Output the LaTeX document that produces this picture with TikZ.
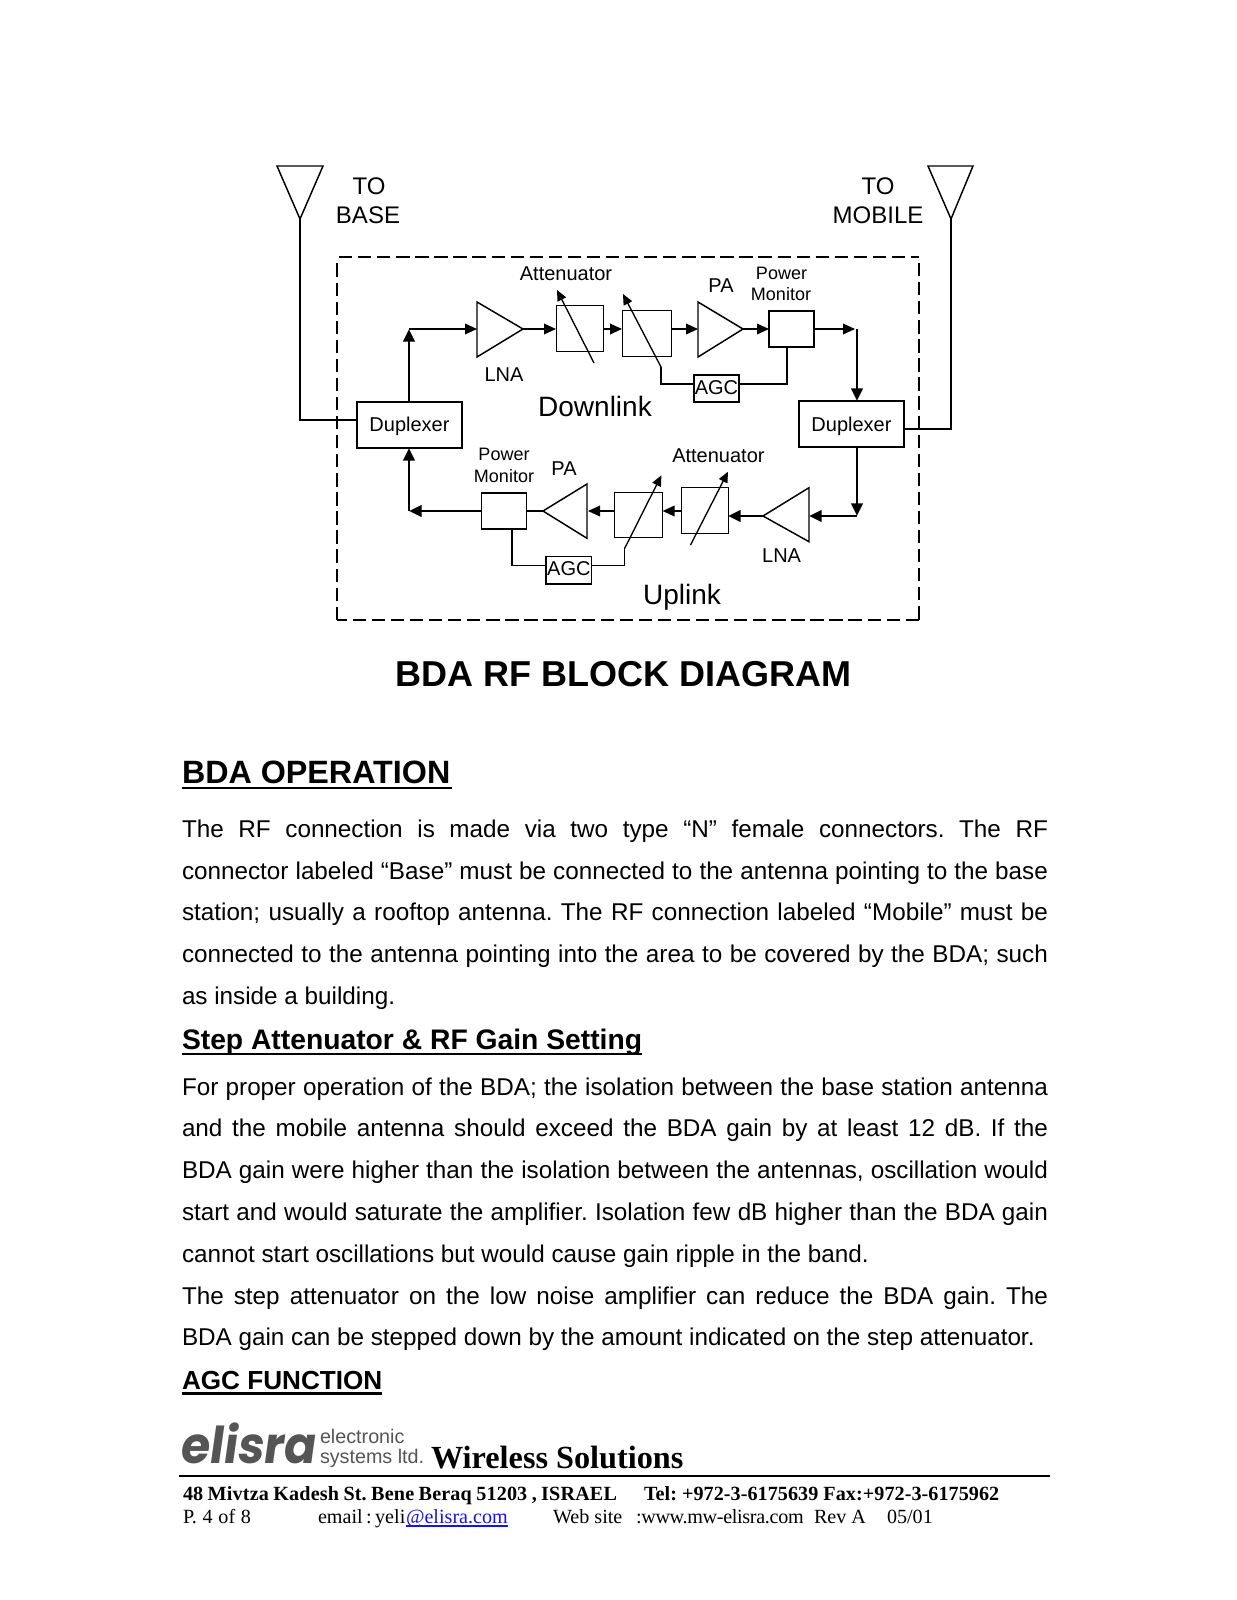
\documentclass[tikz,border=0pt]{standalone}
\usepackage{fontspec}
\usepackage{graphicx}
\setmainfont{Liberation Sans}
\newfontfamily\tnr{Liberation Serif}
\newfontfamily\logof{Poppins}[FakeSlant=0.15]
\usetikzlibrary{arrows.meta,calc}
\newcommand{\fsz}[1]{\fontsize{#1}{#1}\selectfont}
\definecolor{logogray}{HTML}{555555}
\definecolor{linkblue}{HTML}{1414E6}
\frenchspacing
\tikzset{
  every node/.style={inner sep=0pt,outer sep=0pt},
  thinl/.style={line width=1.0pt,draw=black},
  thickl/.style={line width=2.2pt,draw=black},
  bigtip/.style={-{Triangle[length=9.5pt,width=8.5pt]}},
  midtip/.style={-{Triangle[length=9pt,width=8pt]}},
  slash/.style={line width=1.0pt,-{Triangle[length=8pt,width=7pt]}},
  atten/.style={draw=black,line width=.7pt,anchor=north west},
  pmbox/.style={draw=black,line width=1.0pt,anchor=north west},
  dashl/.style={line width=1.1pt,dash pattern=on 10pt off 4.3pt},
  lbl/.style={anchor=base,font=\fsz{15}},
  lblS/.style={anchor=base,font=\fsz{13.5}},
  lblL/.style={anchor=base,font=\fsz{18}},
  lblXL/.style={anchor=base,font=\fsz{21}},
  bodyl/.style={anchor=base west,font=\fsz{18.2}},
  head/.style={anchor=base west,font=\fsz{24.2}\bfseries},
  subh/.style={anchor=base west,font=\fsz{21.2}\bfseries},
  subs/.style={anchor=base west,font=\fsz{19.6}\bfseries},
  foot/.style={anchor=base west,font=\tnr\fsz{15.1}},
  footb/.style={anchor=base west,font=\tnr\fsz{15.1}\bfseries},
}
% justified line: name, baseline y, text
\newcommand{\jline}[3]{\node[bodyl] (#1) at (182,#2) {\hbox to 649.5pt{\spaceskip=.278em plus 1fil\relax #3}};}
\newcommand{\lline}[3]{\node[bodyl] (#1) at (182,#2) {#3};}
% box from pixel corners
\newcommand{\pbox}[6]{\node[#2,minimum width=#5*.75pt-#3*.75pt,minimum height=#6*.75pt-#4*.75pt] (#1) at (#3,#4) {};}
\begin{document}
\begin{tikzpicture}[x=.75pt,y=-.75pt]
\useasboundingbox (0,0) rectangle (1237,1600);
\fill[white] (0,0) rectangle (1237,1600);

% ---- antennas
\coordinate (antL) at (300,219);
\coordinate (antR) at (951,219);
\draw[line width=1.1pt,line join=miter] (277,166) -- (323,166) -- (antL) -- cycle;
\draw[line width=1.1pt,line join=miter] (928,166) -- (973,166) -- (antR) -- cycle;

% ---- dashed enclosure
\draw[dashl] (339,257) -- (919,257);
\draw[dashl] (919,263) -- (919,620);
\draw[dashl] (919,620) -- (337,620);
\draw[dashl] (337,620) -- (337,262);

% ---- duplexers
\pbox{dupL}{pmbox,fill=white}{357}{402}{462}{448}
\pbox{dupR}{pmbox,fill=white}{799}{401}{904}{447}
\node[lbl] (dupLt) at (409.5,431) {Duplexer};
\node[lbl] (dupRt) at (851.5,431) {Duplexer};

% ---- downlink
\coordinate (dlA) at (409,329);
\coordinate (dlLnaIn) at (477,329);
\coordinate (dlLnaOut) at (523,329);
\draw[line width=1.1pt] (477,302) -- (477,357) -- (dlLnaOut) -- cycle;
\pbox{dlAt1}{atten}{556}{305}{603}{351}
\pbox{dlAt2}{atten}{622}{310}{671}{356}
\coordinate (dlPaIn) at (698,329);
\coordinate (dlPaOut) at (743,329);
\draw[line width=1.1pt] (698,302) -- (698,357) -- (dlPaOut) -- cycle;
\pbox{dlPm}{pmbox}{769}{311}{814}{347}
\pbox{dlAgc}{pmbox}{694}{375}{739}{402}
\node[lbl] (dlAgct) at (716.5,394) {AGC};
\coordinate (dlTurn) at (857,329);
\coordinate (dlS1a) at (594,363); \coordinate (dlS1b) at (557,290);
\coordinate (dlS2a) at (661,367); \coordinate (dlS2b) at (623,294);
\coordinate (dlS2c) at (661,384);
\coordinate (dlPmC) at (787,384);

\draw[thickl,bigtip] (dupL.north -| dlA) -- (dlA);
\draw[thinl,midtip] (dlA) -- (dlLnaIn);
\draw[thinl,midtip] (dlLnaOut) -- (dlAt1.west |- dlLnaOut);
\draw[thinl,midtip] (dlAt1.east |- dlLnaOut) -- (dlAt2.west |- dlLnaOut);
\draw[thinl,midtip] (dlAt2.east |- dlLnaOut) -- (dlPaIn);
\draw[thinl,midtip] (dlPaOut) -- (dlPm.west |- dlPaOut);
\draw[thinl,midtip] (dlPm.east |- dlPaOut) -- (855,329);
\draw[thickl,bigtip] (dlTurn) -- (dlTurn |- dupR.north);
\draw[slash] (dlS1a) -- (dlS1b);
\draw[slash] (dlS2a) -- (dlS2b);
\draw[thinl] (dlS2a) -- (dlS2c) -- (dlAgc.west |- dlS2c);
\draw[thinl] (dlAgc.east |- dlPmC) -- (dlPmC) -- (dlPmC |- dlPm.south);

% ---- uplink
\coordinate (ulLnaIn) at (809,516);
\coordinate (ulLnaOut) at (763,516);
\draw[line width=1.1pt] (809,487.7) -- (809,541.7) -- (ulLnaOut) -- cycle;
\pbox{ulAt1}{atten}{681}{487.3}{728}{533.3}
\pbox{ulAt2}{atten}{614}{492.3}{662.6}{537.3}
\coordinate (ulPaIn) at (587,511);
\coordinate (ulPaOut) at (543,511);
\draw[line width=1.1pt] (587,484) -- (587,538.3) -- (ulPaOut) -- cycle;
\pbox{ulPm}{pmbox}{481.5}{493}{526.7}{529}
\pbox{ulAgc}{pmbox}{546}{556.7}{591.8}{584}
\node[lbl] (ulAgct) at (568.9,575.7) {AGC};
\coordinate (ulTurnR) at (857,516);
\coordinate (ulTurnL) at (409,511);
\coordinate (ulS1a) at (690.5,545); \coordinate (ulS1b) at (728,471.7);
\coordinate (ulS2a) at (624.7,548.3); \coordinate (ulS2b) at (661.4,475.3);
\coordinate (ulS2c) at (624.7,565.3);
\coordinate (ulPmC) at (512,565.3);

\draw[thickl,bigtip] (dupR.south -| ulTurnR) -- (ulTurnR);
\draw[thickl,bigtip] (ulTurnR) -- (ulLnaIn);
\draw[thickl,bigtip] (ulLnaOut) -- (ulAt1.east |- ulLnaOut);
\draw[thinl,midtip] (ulAt1.west |- ulPaIn) -- (ulAt2.east |- ulPaIn);
\draw[thinl,midtip] (ulAt2.west |- ulPaIn) -- (588,511);
\draw[thickl] (ulPaOut) -- (ulPm.east |- ulPaOut);
\draw[thickl,bigtip] (ulPm.west |- ulTurnL) -- (ulTurnL);
\draw[thickl,bigtip] (ulTurnL) -- (ulTurnL |- dupL.south);
\draw[slash] (ulS1a) -- (ulS1b);
\draw[slash] (ulS2a) -- (ulS2b);
\draw[thinl] (ulS2a) -- (ulS2c) -- (ulAgc.east |- ulS2c);
\draw[thinl] (ulAgc.west |- ulPmC) -- (ulPmC) -- (ulPmC |- ulPm.south);

% ---- antenna feeds
\draw[thickl,line join=miter] (antL) -- (300,420) -- (dupL.west |- 0,420);
\draw[thickl,line join=miter] (antR) -- (951,429) -- (dupR.east |- 0,429);

% ---- diagram labels
\node[lblL] (toB) at (369,194.5) {TO};
\node[lblL] (base) at (368,223) {BASE};
\node[lblL] (toM) at (878,194.5) {TO};
\node[lblL] (mob) at (878,223) {MOBILE};
\node[lbl] (dlAtt) at (566,280) {Attenuator};
\node[lbl] (dlLna) at (504,381) {LNA};
\node[lbl] (dlPa) at (721,292.7) {PA};
\node[lblS] (dlPow) at (781.5,279) {Power};
\node[lblS] (dlMon) at (781,300) {Monitor};
\node[lblXL] (dl) at (595,416) {Downlink};
\node[lblS] (ulPow) at (504,460) {Power};
\node[lblS] (ulMon) at (504,482) {Monitor};
\node[lbl] (ulPa) at (564,475) {PA};
\node[lbl] (ulAtt) at (718.4,462) {Attenuator};
\node[lbl] (ulLna) at (781.6,562.5) {LNA};
\node[lblXL] (ul) at (682,604.5) {Uplink};

% ---- page text
\node[anchor=base,font=\fsz{27}\bfseries] (title) at (623.5,686) {BDA RF BLOCK DIAGRAM};

\node[head] (h1) at (182,783) {BDA OPERATION};
\draw[line width=1.9pt] ($(h1.base west)+(0,5)$) -- ($(h1.base east)+(2,5)$);

\jline{b1}{837}{The RF connection is made via two type “N” female connectors. The RF}
\jline{b2}{879}{connector labeled “Base” must be connected to the antenna pointing to the base}
\jline{b3}{920.5}{station; usually a rooftop antenna. The RF connection labeled “Mobile” must be}
\jline{b4}{962}{connected to the antenna pointing into the area to be covered by the BDA; such}
\lline{b5}{1004}{as inside a building.}

\node[subh] (h2) at (182,1049) {Step Attenuator \& RF Gain Setting};
\draw[line width=1.7pt] ($(h2.base west)+(0,5)$) -- ($(h2.base east)+(0,5)$);

\jline{c1}{1095}{For proper operation of the BDA; the isolation between the base station antenna}
\jline{c2}{1136}{and the mobile antenna should exceed the BDA gain by at least 12 dB. If the}
\jline{c3}{1178}{BDA gain were higher than the isolation between the antennas, oscillation would}
\jline{c4}{1220}{start and would saturate the amplifier. Isolation few dB higher than the BDA gain}
\lline{c5}{1262}{cannot start oscillations but would cause gain ripple in the band.}
\jline{c6}{1304}{The step attenuator on the low noise amplifier can reduce the BDA gain. The}
\lline{c7}{1345}{BDA gain can be stepped down by the amount indicated on the step attenuator.}

\node[subs] (h3) at (182,1389) {AGC FUNCTION};
\draw[line width=1.7pt] ($(h3.base west)+(0,4.5)$) -- ($(h3.base east)+(0,4.5)$);

% ---- footer
\node[anchor=base west,text=logogray] (logo) at (179,1463)
  {\resizebox{102pt}{30.5pt}{\logof\bfseries elisra}};
\node[anchor=base west,text=logogray,font=\fsz{14.8}] (lg1) at (320,1443) {electronic};
\node[anchor=base west,text=logogray,font=\fsz{14.8}] (lg2) at (320,1463) {systems ltd.};
\node[anchor=base west,font=\tnr\fsz{24.2}\bfseries] (ws) at (431,1468) {Wireless Solutions};
\draw[line width=1.7pt] (179,1476) -- (1050,1476);

\node[footb] (addr) at (183,1500) {\addfontfeature{LetterSpace=0.8}\hbox to 325.5pt{\spaceskip=.2em plus 1fil\relax 48 Mivtza Kadesh St. Bene Beraq 51203 , ISRAEL}};
\node[footb] (tel) at (644,1500) {\addfontfeature{LetterSpace=0.3}\hbox to 265.5pt{\spaceskip=.25em plus 1fil\relax Tel: +972-3-6175639 Fax:+972-3-6175962}};
\node[foot] (pg) at (183,1523) {\hbox to 51pt{\spaceskip=.25em plus 1fil\relax P. 4 of 8}};
\node[foot] (em) at (318,1523) {\hbox to 65.5pt{\spaceskip=.2em plus 1fil minus .1em\relax email : yeli}};
\node[foot,text=linkblue] (lnk) at (406,1523) {@elisra.com};
\draw[linkblue,line width=.8pt] ($(lnk.base west)+(0,3)$) -- ($(lnk.base east)+(0,3)$);
\node[foot] (web) at (553,1523) {\hbox to 52pt{\spaceskip=.25em plus 1fil\relax Web site}};
\node[foot] (url) at (636,1523) {\addfontfeature{LetterSpace=-1.6}:www.mw-elisra.com};
\node[foot] (rev) at (814,1523) {Rev A};
\node[foot] (dt) at (887,1523) {05/01};
\end{tikzpicture}
\end{document}
